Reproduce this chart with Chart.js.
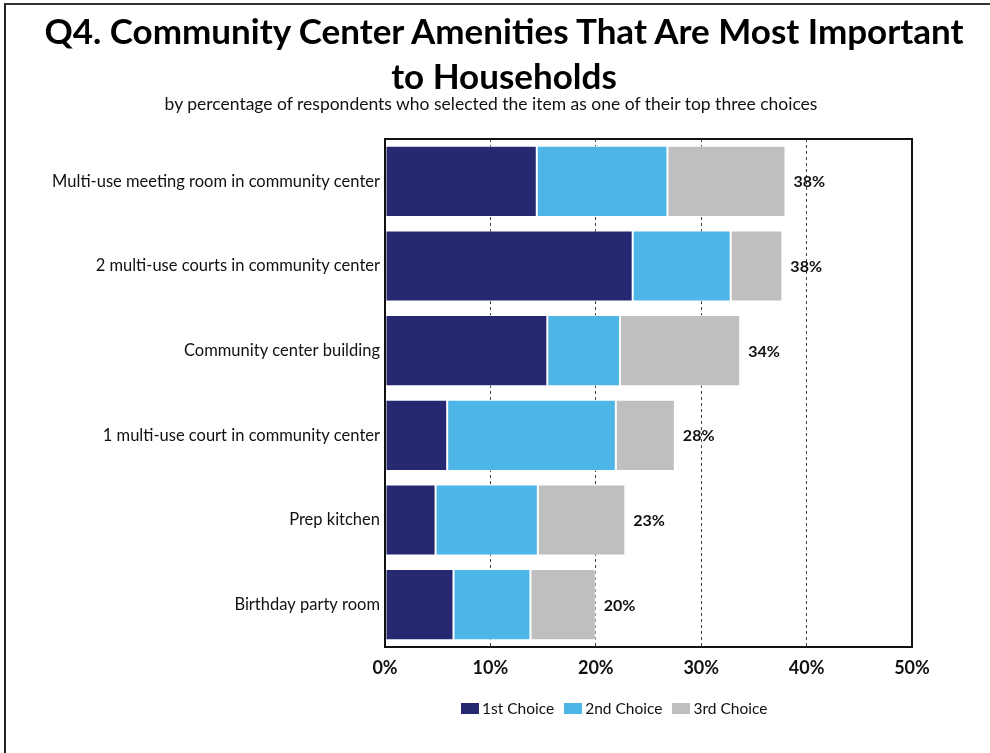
<!DOCTYPE html>
<html>
<head>
<meta charset="utf-8">
<script src="https://cdn.jsdelivr.net/npm/chart.js@4.4.1/dist/chart.umd.min.js"></script>
<style>
  html, body { margin: 0; padding: 0; background: #fff; }
  #wrap { position: relative; width: 990px; height: 753px; overflow: hidden;
          font-family: Lato, "Open Sans", sans-serif; color: #111; }
  #frame { position: absolute; left: 4px; top: 3px; right: -10px; bottom: -10px;
           border-left: 2px solid #222; border-top: 2px solid #333; pointer-events: none; }
  canvas { position: absolute; left: 0; top: 0; }
  .title { position: absolute; left: 40px; width: 928px; top: 8px; text-align: center;
           font-size: 35px; font-weight: bold; line-height: 45px; color: #000; }
  .subtitle { position: absolute; left: 0; width: 982px; top: 94px; text-align: center;
              font-size: 17.5px; line-height: 20px; }
  #legend { position: absolute; left: 461px; top: 698px; display: flex; font-size: 15.5px; line-height: 20px; }
  #legend .item { display: flex; align-items: center; margin-right: 10px; white-space: nowrap; }
  #legend .swatch { width: 18px; height: 11px; margin-right: 3px; }
</style>
</head>
<body>
<div id="wrap">
  <canvas id="amenities" width="990" height="753"></canvas>
  <div class="title">Q4. Community Center Amenities That Are Most Important<br>to Households</div>
  <div class="subtitle">by percentage of respondents who selected the item as one of their top three choices</div>
  <div id="legend"></div>
  <div id="frame"></div>
</div>
<script>
// Q4 amenities: share of respondents picking each item as 1st / 2nd / 3rd choice (%)
const categories = [
  "Multi-use meeting room in community center",
  "2 multi-use courts in community center",
  "Community center building",
  "1 multi-use court in community center",
  "Prep kitchen",
  "Birthday party room"
];
const firstChoice  = [14.4, 23.5, 15.4, 5.9, 4.8, 6.5];
const secondChoice = [12.4,  9.3,  6.9, 16.0, 9.7, 7.3];
const thirdChoice  = [11.2,  4.9, 11.4, 5.6, 8.3, 6.2];
const totalLabels  = ["38%", "38%", "34%", "28%", "23%", "20%"];
const xTicks = [0, 10, 20, 30, 40, 50];

const FONT = "Lato, 'Open Sans', sans-serif";
const NAVY = "#262971", SKY = "#4db6e6", GREY = "#bfbfbf";

// totals printed just past the end of each stacked bar
const totalsPlugin = {
  id: "totals",
  afterDatasetsDraw(chart) {
    const ctx = chart.ctx;
    const x = chart.scales.x;
    const last = chart.getDatasetMeta(2);
    ctx.save();
    ctx.font = "bold 16px " + FONT;
    ctx.fillStyle = "#111";
    ctx.textAlign = "left";
    ctx.textBaseline = "middle";
    categories.forEach((c, i) => {
      const end = firstChoice[i] + secondChoice[i] + thirdChoice[i];
      ctx.fillText(totalLabels[i], x.getPixelForValue(end) + 8, last.data[i].y + 1);
    });
    ctx.restore();
  }
};

// solid frame around the plot area
const framePlugin = {
  id: "plotFrame",
  afterDraw(chart) {
    const a = chart.chartArea;
    const ctx = chart.ctx;
    ctx.save();
    ctx.strokeStyle = "#111";
    ctx.lineWidth = 2;
    ctx.strokeRect(a.left, a.top, a.right - a.left, a.bottom - a.top);
    ctx.restore();
  }
};

const ds = (label, data, color) => ({
  label, data, backgroundColor: color,
  borderColor: "rgba(255,255,255,0.7)", borderWidth: 1, borderSkipped: false,
  barPercentage: 0.84, categoryPercentage: 1
});

const chart = new Chart(document.getElementById("amenities"), {
  type: "bar",
  data: {
    labels: categories,
    datasets: [
      ds("1st Choice", firstChoice, NAVY),
      ds("2nd Choice", secondChoice, SKY),
      ds("3rd Choice", thirdChoice, GREY)
    ]
  },
  plugins: [totalsPlugin, framePlugin],
  options: {
    indexAxis: "y",
    responsive: false,
    animation: false,
    layout: { padding: { left: 6, right: 78, top: 139, bottom: 66 } },
    scales: {
      x: {
        stacked: true, min: 0, max: 50,
        afterBuildTicks: s => { s.ticks = xTicks.map(v => ({ value: v })); },
        afterFit: s => { s.height = 40; },
        ticks: {
          callback: v => v + "%",
          color: "#111", padding: 10,
          font: { family: FONT, size: 18, weight: "bold" }
        },
        grid: {
          color: c => (c.tick && (c.tick.value === 0 || c.tick.value === 50)) ? "transparent" : "#444",
          lineWidth: 1, drawTicks: false
        },
        border: { display: false, dash: [3, 3] }
      },
      y: {
        stacked: true,
        afterFit: s => { s.width = 379; },
        ticks: { color: "#111", padding: 5, font: { family: FONT, size: 16.5 } },
        grid: { display: false, drawTicks: false, tickLength: 0 },
        border: { display: false }
      }
    },
    plugins: {
      legend: { display: false },
      tooltip: { enabled: false }
    }
  }
});

// legend built from the chart's own datasets
document.getElementById("legend").innerHTML = chart.data.datasets.map(d => `
  <div class="item"><span class="swatch" style="background:${d.backgroundColor}"></span>${d.label}</div>
`).join("");
</script>
</body>
</html>
